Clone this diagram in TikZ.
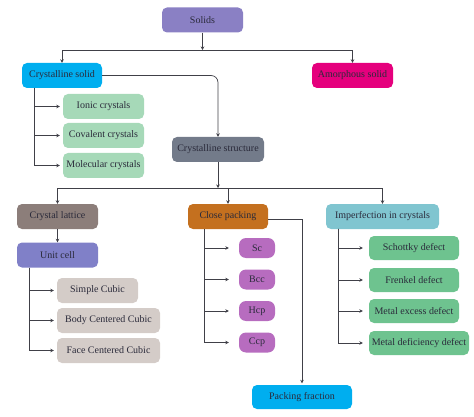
\documentclass[tikz,border=0pt]{standalone}
\usepackage{fontspec}
\setmainfont{Liberation Serif}
\usetikzlibrary{arrows.meta}
\definecolor{cSolids}{HTML}{8A80C4}
\definecolor{cCyan}{HTML}{00AEEF}
\definecolor{cMag}{HTML}{E5007D}
\definecolor{cLGreen}{HTML}{A6D9B8}
\definecolor{cStruct}{HTML}{737B8A}
\definecolor{cLattice}{HTML}{8C7E7A}
\definecolor{cClose}{HTML}{C4701F}
\definecolor{cImp}{HTML}{80C5D0}
\definecolor{cUnit}{HTML}{8080C8}
\definecolor{cBeige}{HTML}{D4CCC8}
\definecolor{cPurp}{HTML}{B76CBF}
\definecolor{cGreen}{HTML}{6EC38F}
\definecolor{cText}{HTML}{2A2A3A}
\definecolor{cLine}{HTML}{404048}
\begin{document}
\begin{tikzpicture}[x=1pt,y=-1pt,
  box/.style={rounded corners=5pt,inner sep=0pt,text=cText,font=\fontsize{10}{12}\selectfont,minimum height=25pt},
  conn/.style={draw=cLine,line width=0.7pt},
  arr/.style={conn,-{Stealth[length=3.5pt,width=3.5pt]}},
  br/.style={arr,shorten >=3pt},
]
\useasboundingbox (0,0) rectangle (474,417);
% nodes
\node[box,fill=cSolids,minimum width=81pt] (solids) at (202.5,20) {Solids};
\node[box,fill=cCyan,minimum width=80pt] (cs) at (62,75.5) {Crystalline solid};
\node[box,fill=cMag,minimum width=81pt] (am) at (352.5,75.5) {Amorphous solid};
\node[box,fill=cLGreen,minimum width=81pt] (ionic) at (103.5,106.5) {Ionic crystals};
\node[box,fill=cLGreen,minimum width=81pt] (cov) at (103.5,135.5) {Covalent crystals};
\node[box,fill=cLGreen,minimum width=81pt] (mol) at (103.5,165.5) {Molecular crystals};
\node[box,fill=cStruct,minimum width=92pt] (cst) at (218,149.5) {Crystalline structure};
\node[box,fill=cLattice,minimum width=81pt] (lat) at (57.5,216.5) {Crystal lattice};
\node[box,fill=cClose,minimum width=80pt] (cp) at (228,216.5) {Close packing};
\node[box,fill=cImp,minimum width=113pt] (imp) at (382.5,216.5) {Imperfection in crystals};
\node[box,fill=cUnit,minimum width=81pt] (uc) at (57.5,255) {Unit cell};
\node[box,fill=cBeige,minimum width=81pt] (sc1) at (97.5,290.5) {Simple Cubic};
\node[box,fill=cBeige,minimum width=103pt] (bcc1) at (108.5,320.5) {Body Centered Cubic};
\node[box,fill=cBeige,minimum width=103pt] (fcc1) at (108.5,350.5) {Face Centered Cubic};
\node[box,fill=cPurp,minimum width=36pt,minimum height=20pt,rounded corners=7pt] (sc) at (257,248) {Sc};
\node[box,fill=cPurp,minimum width=36pt,minimum height=20pt,rounded corners=7pt] (bcc) at (257,279.5) {Bcc};
\node[box,fill=cPurp,minimum width=36pt,minimum height=20pt,rounded corners=7pt] (hcp) at (257,311) {Hcp};
\node[box,fill=cPurp,minimum width=36pt,minimum height=20pt,rounded corners=7pt] (ccp) at (257,342.5) {Ccp};
\node[box,fill=cCyan,minimum width=100pt,minimum height=24pt] (pf) at (302,397) {Packing fraction};
\node[box,fill=cGreen,minimum width=90pt,minimum height=24pt] (sch) at (414,248) {Schottky defect};
\node[box,fill=cGreen,minimum width=90pt,minimum height=24pt] (fre) at (414,280) {Frenkel defect};
\node[box,fill=cGreen,minimum width=90pt,minimum height=24pt] (mex) at (414,311) {Metal excess defect};
\node[box,fill=cGreen,minimum width=100pt,minimum height=24pt] (mdd) at (419,343) {Metal deficiency defect};
% junction coordinates
\coordinate (j1) at (202.5,50);
\coordinate (j2) at (218,188);
\coordinate (csv) at (34,88);
\coordinate (ucv) at (29,267.5);
\coordinate (cpv) at (204,229);
\coordinate (impv) at (338,228.5);
\coordinate (cpe) at (268,219);
% connectors
\draw[arr] (solids.south) -- (j1);
\draw[arr] (j1) -| (cs.north);
\draw[arr] (j1) -| (am.north);
\draw[arr,rounded corners=7pt] (cs.east) -| (cst.north);
\draw[br] (csv) |- (ionic.west);
\draw[br] (csv) |- (cov.west);
\draw[br] (csv) |- (mol.west);
\draw[arr] (cst.south) -- (j2);
\draw[arr] (j2) -| (lat.north);
\draw[arr] (j2) -| (cp.north);
\draw[arr] (j2) -| (imp.north);
\draw[arr] (lat.south) -- (uc.north);
\draw[br] (ucv) |- (sc1.west);
\draw[br] (ucv) |- (bcc1.west);
\draw[br] (ucv) |- (fcc1.west);
\draw[br,shorten >=10pt] (cpv) |- (sc.west);
\draw[br,shorten >=10pt] (cpv) |- (bcc.west);
\draw[br,shorten >=10pt] (cpv) |- (hcp.west);
\draw[br,shorten >=10pt] (cpv) |- (ccp.west);
\draw[arr,shorten >=1.5pt] (cpe) -| (pf.north);
\draw[br,shorten >=6pt] (impv) |- (sch.west);
\draw[br,shorten >=6pt] (impv) |- (fre.west);
\draw[br,shorten >=6pt] (impv) |- (mex.west);
\draw[br,shorten >=6pt] (impv) |- (mdd.west);
\end{tikzpicture}
\end{document}
